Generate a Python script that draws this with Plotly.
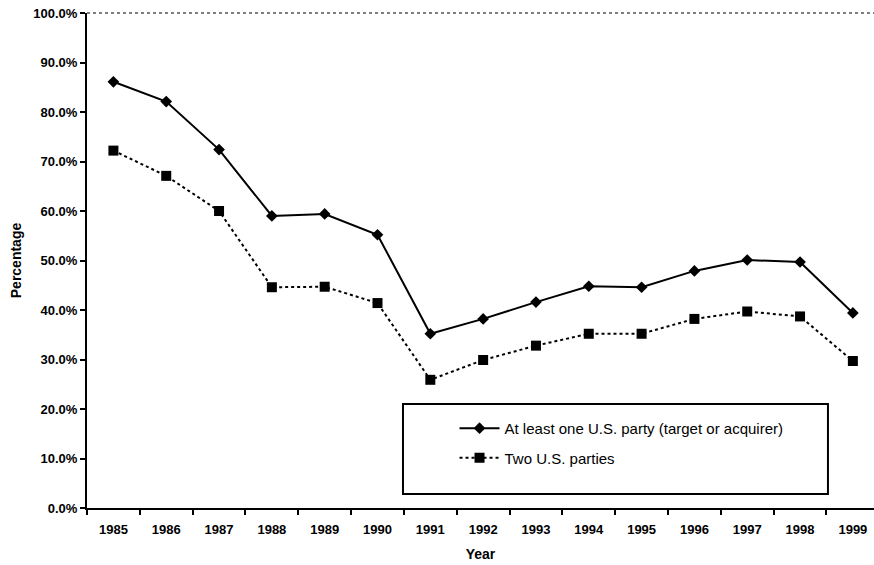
import plotly.graph_objects as go

years = ["1985", "1986", "1987", "1988", "1989", "1990", "1991", "1992",
         "1993", "1994", "1995", "1996", "1997", "1998", "1999"]
at_least_one = [86.1, 82.1, 72.4, 59.0, 59.4, 55.2, 35.2, 38.2,
                41.6, 44.8, 44.6, 47.9, 50.1, 49.7, 39.4]
two_parties = [72.2, 67.1, 60.0, 44.6, 44.7, 41.4, 25.9, 29.9,
               32.8, 35.2, 35.2, 38.2, 39.7, 38.7, 29.7]
y_ticks = [0, 10, 20, 30, 40, 50, 60, 70, 80, 90, 100]
y_tick_labels = [f"{v:.1f}%" for v in y_ticks]

font_family = "Liberation Sans, Arial, sans-serif"

fig = go.Figure()
fig.add_trace(go.Scatter(
    x=years, y=at_least_one, mode="lines+markers",
    name="At least one U.S. party (target or acquirer)",
    line=dict(color="black", width=2),
    marker=dict(symbol="diamond", size=9, color="black"),
    legendgroup="a",
))
fig.add_trace(go.Scatter(
    x=years, y=two_parties, mode="lines+markers",
    name="Two U.S. parties",
    line=dict(color="black", width=2, dash="dot"),
    marker=dict(symbol="square", size=10, color="black"),
    legendgroup="b",
))

fig.update_layout(
    width=874, height=565,
    margin=dict(l=87, r=0, t=13, b=57),
    paper_bgcolor="white", plot_bgcolor="white",
    font=dict(family=font_family, size=13, color="black"),
    showlegend=True,
    legend=dict(
        x=0.467, y=0.194, xanchor="left", yanchor="top",
        bgcolor="rgba(0,0,0,0)", borderwidth=0,
        font=dict(family=font_family, size=15, color="black"),
        traceorder="grouped", tracegroupgap=7, itemwidth=40,
    ),
    xaxis=dict(
        type="category", showgrid=False, zeroline=False, automargin=False,
        showline=True, linecolor="black", linewidth=2,
        ticks="outside", tickson="boundaries", ticklen=5, tickwidth=2, tickcolor="black",
        ticklabelstandoff=8,
        tickfont=dict(family=font_family, size=13, color="black", weight="bold"),
        title=dict(text="<b>Year</b>", font=dict(size=14, color="black"), standoff=14),
        range=[-0.5, 14.4],
    ),
    yaxis=dict(
        range=[0, 100], showgrid=False, zeroline=False, automargin=False,
        showline=True, linecolor="black", linewidth=2,
        ticks="outside", ticklen=5, tickwidth=2, tickcolor="black",
        tickvals=y_ticks, ticktext=y_tick_labels,
        tickfont=dict(family=font_family, size=13, color="black", weight="bold"),
        title=dict(text="<b>Percentage</b>", font=dict(size=14, color="black"), standoff=8),
    ),
    shapes=[
        dict(type="line", xref="paper", yref="paper", x0=0, x1=1, y0=1, y1=1,
             line=dict(color="#555555", width=1.5, dash="dot")),
        dict(type="rect", xref="paper", yref="paper",
             x0=0.4015, x1=0.9415, y0=0.0283, y1=0.2101,
             line=dict(color="black", width=2), fillcolor="rgba(0,0,0,0)"),
    ],
)

fig.write_html(
    "out.html",
    config={"displayModeBar": False},
    post_script="document.body.style.margin='0';document.body.style.overflow='hidden';",
)
